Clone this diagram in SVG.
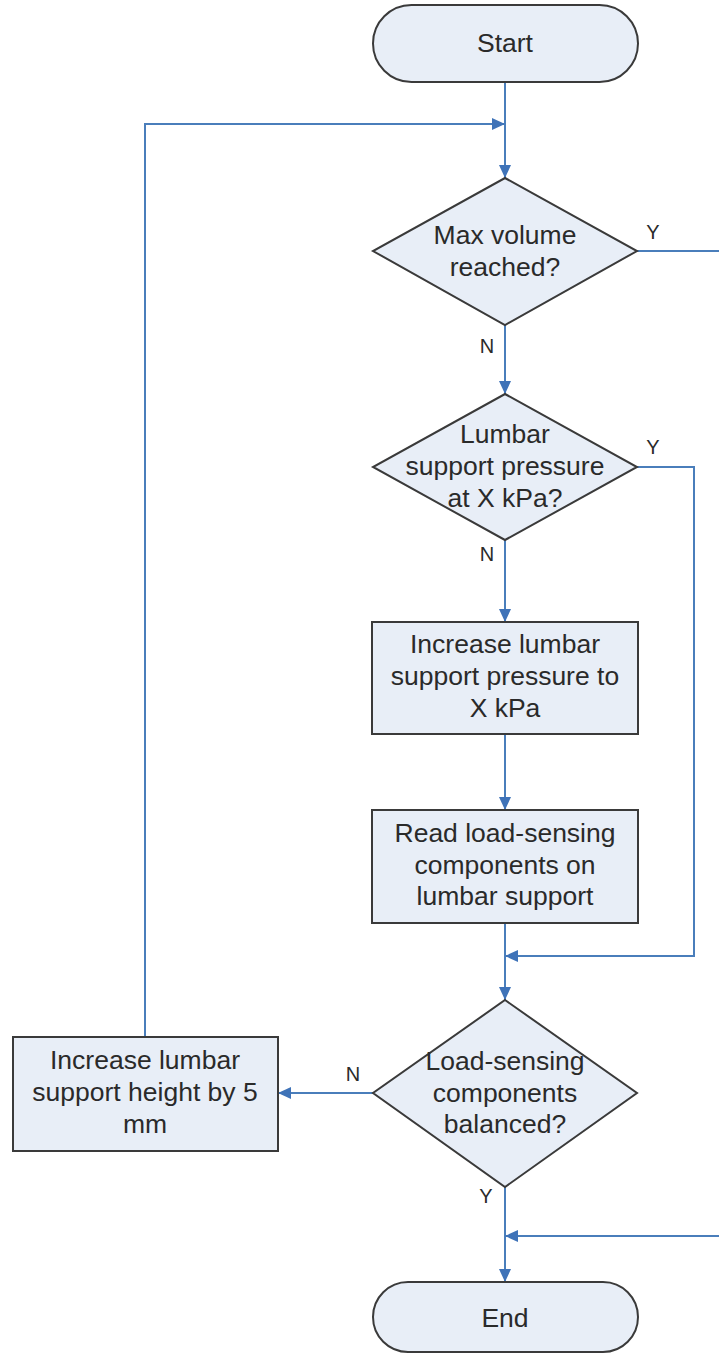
<svg xmlns="http://www.w3.org/2000/svg" width="719" height="1354" viewBox="0 0 719 1354">
<style>
.shape{fill:#e8eef7;stroke:#3a3a3a;stroke-width:2}
.t{font-family:"Liberation Sans",Arial,sans-serif;font-size:26.5px;fill:#2a2a2a;text-anchor:middle}
.lbl{font-family:"Liberation Sans",Arial,sans-serif;font-size:20px;fill:#2a2a2a;text-anchor:middle}
.c{fill:none;stroke:#4a7ebb;stroke-width:2}
</style>
<defs>
<marker id="arr" markerUnits="userSpaceOnUse" markerWidth="14" markerHeight="14" viewBox="0 0 14 14" refX="13" refY="7" orient="auto">
<path d="M0,1 L13,7 L0,13 z" fill="#3f73b8"/>
</marker>
</defs>
<rect width="719" height="1354" fill="#ffffff"/>
<g id="connectors">
<path class="c" d="M505,82 V178" marker-end="url(#arr)"/>
<path class="c" d="M145,1037 V124 H505" marker-end="url(#arr)"/>
<path class="c" d="M637,251 H719"/>
<path class="c" d="M505,325 V394" marker-end="url(#arr)"/>
<path class="c" d="M637,467 H694 V956 H505" marker-end="url(#arr)"/>
<path class="c" d="M505,540 V622" marker-end="url(#arr)"/>
<path class="c" d="M505,734 V810" marker-end="url(#arr)"/>
<path class="c" d="M505,923 V1000" marker-end="url(#arr)"/>
<path class="c" d="M373,1093 H278" marker-end="url(#arr)"/>
<path class="c" d="M505,1187 V1282" marker-end="url(#arr)"/>
<path class="c" d="M719,1236 H505" marker-end="url(#arr)"/>
<text class="lbl" x="653" y="239">Y</text>
<text class="lbl" x="487" y="353">N</text>
<text class="lbl" x="653" y="454">Y</text>
<text class="lbl" x="487" y="561">N</text>
<text class="lbl" x="353" y="1081">N</text>
<text class="lbl" x="486" y="1203">Y</text>
</g>
<g id="start">
<rect class="shape" x="373" y="5" width="265" height="77" rx="38.5"/>
<text class="t" x="505" y="52">Start</text>
</g>
<g id="max-volume">
<polygon class="shape" points="505,178 637,251 505,325 373,251"/>
<text class="t" x="505" y="244">Max volume</text>
<text class="t" x="505" y="276">reached?</text>
</g>
<g id="lumbar-pressure">
<polygon class="shape" points="505,394 637,467 505,540 373,467"/>
<text class="t" x="505" y="443">Lumbar</text>
<text class="t" x="505" y="475">support pressure</text>
<text class="t" x="505" y="507">at X kPa?</text>
</g>
<g id="increase-pressure">
<rect class="shape" x="372" y="622" width="266" height="112"/>
<text class="t" x="505" y="653">Increase lumbar</text>
<text class="t" x="505" y="685">support pressure to</text>
<text class="t" x="505" y="717">X kPa</text>
</g>
<g id="read-load">
<rect class="shape" x="372" y="810" width="266" height="113"/>
<text class="t" x="505" y="842">Read load-sensing</text>
<text class="t" x="505" y="874">components on</text>
<text class="t" x="505" y="905">lumbar support</text>
</g>
<g id="balanced">
<polygon class="shape" points="505,1000 637,1093 505,1187 373,1093"/>
<text class="t" x="505" y="1070">Load-sensing</text>
<text class="t" x="505" y="1102">components</text>
<text class="t" x="505" y="1133">balanced?</text>
</g>
<g id="increase-height">
<rect class="shape" x="13" y="1037" width="265" height="114"/>
<text class="t" x="145" y="1069">Increase lumbar</text>
<text class="t" x="145" y="1101">support height by 5</text>
<text class="t" x="145" y="1133">mm</text>
</g>
<g id="end">
<rect class="shape" x="373" y="1282" width="265" height="70" rx="35"/>
<text class="t" x="505" y="1327">End</text>
</g>
</svg>
